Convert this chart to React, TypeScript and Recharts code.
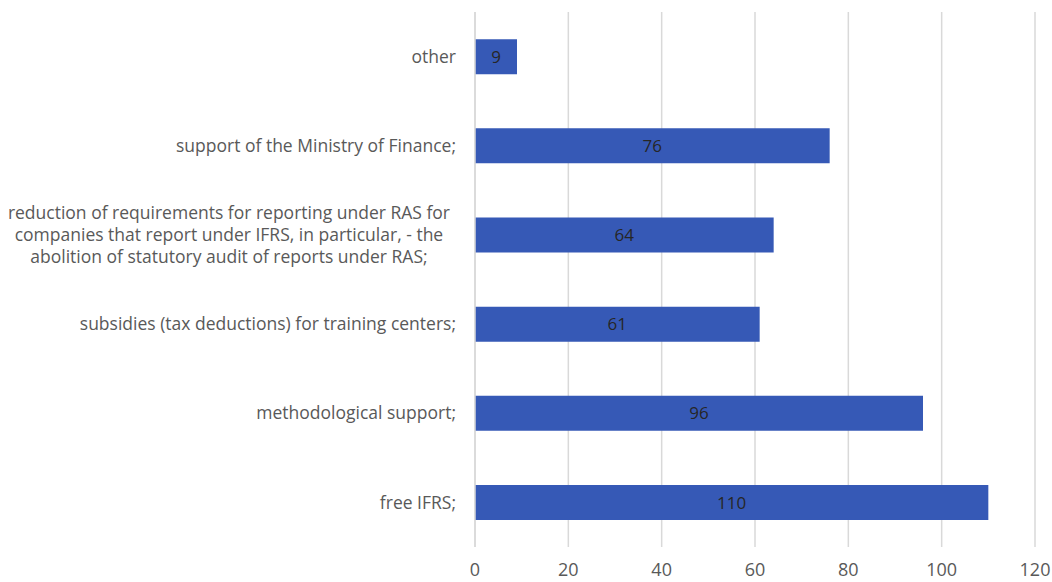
import React from 'react';
import { BarChart, Bar, XAxis, YAxis, CartesianGrid, LabelList } from 'recharts';

const categories = [
  'other',
  'support of the Ministry of Finance;',
  'reduction of requirements for reporting under RAS for companies that report under IFRS, in particular, - the abolition of statutory audit of reports under RAS;',
  'subsidies (tax deductions) for training centers;',
  'methodological support;',
  'free IFRS;',
];
const labelLines: string[][] = [
  ['other'],
  ['support of the Ministry of Finance;'],
  [
    'reduction of requirements for reporting under RAS for',
    'companies that report under IFRS, in particular, - the',
    'abolition of statutory audit of reports under RAS;',
  ],
  ['subsidies (tax deductions) for training centers;'],
  ['methodological support;'],
  ['free IFRS;'],
];
const values = [9, 76, 64, 61, 96, 110];
const xTicks = [0, 20, 40, 60, 80, 100, 120];

const data = categories.map((c, i) => ({ name: c, value: values[i] }));

const FONT = '"Open Sans", "Liberation Sans", Arial, sans-serif';
const FONT_SIZE = 17.5;

let ctx: CanvasRenderingContext2D | null = null;
function measure(t: string): number {
  if (!ctx) {
    const c = document.createElement('canvas');
    ctx = c.getContext('2d');
  }
  if (!ctx) return t.length * 8;
  ctx.font = `${FONT_SIZE}px "Open Sans"`;
  return ctx.measureText(t).width;
}

const CategoryTick = (props: any) => {
  const { x, y, payload } = props;
  const idx = categories.indexOf(payload.value);
  const lines = labelLines[idx] || [payload.value];
  const maxW = Math.max(...lines.map(measure));
  const cx = x - 11 - maxW / 2 - (lines.length > 1 ? 6 : 0);
  const lh = 22;
  const startY = y - ((lines.length - 1) * lh) / 2;
  return (
    <g>
      {lines.map((l, i) => (
        <text
          key={i}
          x={cx}
          y={startY + i * lh}
          dy="0.35em"
          textAnchor="middle"
          fill="#595959"
          fontSize={FONT_SIZE}
          fontFamily={FONT}
        >
          {l}
        </text>
      ))}
    </g>
  );
};

export default function App() {
  return (
    <div style={{ position: 'absolute', left: 0, top: 0, background: '#fff' }}>
      <BarChart
        width={1052}
        height={582}
        data={data}
        layout="vertical"
        margin={{ top: 12, right: 17, bottom: 0, left: 0 }}
        barCategoryGap="30.5%"
      >
        <CartesianGrid horizontal={false} stroke="#d9d9d9" strokeWidth={1.5} />
        <XAxis
          type="number"
          domain={[0, 120]}
          ticks={xTicks}
          axisLine={false}
          tickLine={false}
          height={35}
          tick={{ fill: '#595959', fontSize: 18, fontFamily: FONT }}
          tickMargin={10}
        />
        <YAxis
          type="category"
          dataKey="name"
          width={475}
          axisLine={{ stroke: '#d9d9d9', strokeWidth: 1.5 }}
          tickLine={false}
          tick={<CategoryTick />}
          interval={0}
        />
        <Bar dataKey="value" fill="#3659b6" isAnimationActive={false}>
          <LabelList
            dataKey="value"
            position="center"
            fill="#262626"
            fontSize={17}
            fontFamily={FONT}
          />
        </Bar>
      </BarChart>
    </div>
  );
}
